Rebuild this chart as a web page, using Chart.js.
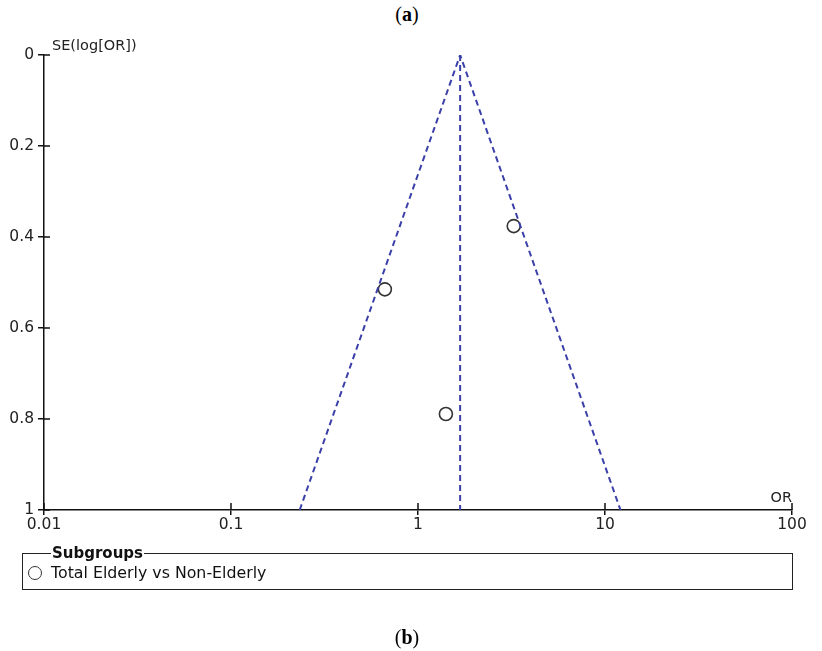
<!DOCTYPE html>
<html>
<head>
<meta charset="utf-8">
<script src="https://cdn.jsdelivr.net/npm/chart.js@4"></script>
<style>
  body { margin: 0; background: #fff; }
  #wrap { position: relative; width: 822px; height: 651px; }
  #chart { position: absolute; left: 0; top: 0; }
  .cap { position: absolute; left: 0; width: 814px; text-align: center;
         font-family: "Liberation Serif", serif; font-size: 20px; line-height: 22px; color: #000; }
  fieldset { position: absolute; left: 22px; top: 546px; width: 771px; height: 44px; box-sizing: border-box;
             margin: 0; padding: 0 0 0 5px; border: 1.5px solid #222;
             font-family: "DejaVu Sans", sans-serif; font-size: 15.8px; color: #111; }
  legend { margin-left: 23px; padding: 0 1px; font-weight: bold; font-size: 15px; line-height: 15px; }
  .item { display: flex; align-items: center; margin-top: 3px; line-height: 18px; }
  .dot { width: 14px; height: 14px; border: 1.6px solid #333; border-radius: 50%; margin-right: 9px; box-sizing: border-box; }
</style>
</head>
<body>
<div id="wrap">
  <div class="cap" style="top:3px">(<b>a</b>)</div>
  <canvas id="chart" width="822" height="651"></canvas>
  <fieldset><legend>Subgroups</legend>
    <div class="item"><span class="dot"></span><span id="seriesName"></span></div>
  </fieldset>
  <div class="cap" style="top:626px">(<b>b</b>)</div>
</div>
<script>
// study points: odds ratio and its standard error
var seriesName = 'Total Elderly vs Non-Elderly';
var studyOR = [3.25, 0.665, 1.41];
var studySE = [0.376, 0.515, 0.789];
// pseudo 95% confidence funnel and pooled estimate
var funnelOR = [0.233, 1.68, 12.1];
var funnelSE = [1, 0, 1];
var pooledOR = [1.68, 1.68];
var pooledSE = [0, 1];
var xTicks = [0.01, 0.1, 1, 10, 100];
var yTicks = [0, 0.2, 0.4, 0.6, 0.8, 1];

document.getElementById('seriesName').textContent = seriesName;

function pts(xs, ys) {
    return xs.map(function (x, i) { return { x: x, y: ys[i] }; });
}

var funnelColor = '#3b40a8';
var font = { family: 'DejaVu Sans', size: 15.5 };

// ticks that cross the axis line, plus axis titles
var axisExtras = {
    id: 'axisExtras',
    afterDraw: function (chart) {
        var ctx = chart.ctx, a = chart.chartArea;
        var xs = chart.scales.x, ys = chart.scales.y;
        ctx.save();
        ctx.strokeStyle = '#111';
        ctx.lineWidth = 1.5;
        ctx.beginPath();
        xTicks.forEach(function (v) {
            var px = xs.getPixelForValue(v);
            ctx.moveTo(px, a.bottom);
            ctx.lineTo(px, a.bottom - 7);
        });
        yTicks.forEach(function (v) {
            var py = ys.getPixelForValue(v);
            ctx.moveTo(a.left, py);
            ctx.lineTo(a.left + 6, py);
        });
        ctx.stroke();
        ctx.fillStyle = '#222';
        ctx.font = '14.5px "DejaVu Sans"';
        ctx.textBaseline = 'alphabetic';
        ctx.textAlign = 'left';
        ctx.fillText('SE(log[OR])', a.left + 8, a.top - 5);
        ctx.textAlign = 'right';
        ctx.fillText('OR', a.right, a.bottom - 8);
        ctx.restore();
    }
};

new Chart(document.getElementById('chart').getContext('2d'), {
    type: 'scatter',
    data: {
        datasets: [
            {
                label: 'funnel',
                type: 'line',
                data: pts(funnelOR, funnelSE),
                borderColor: funnelColor,
                borderWidth: 2,
                borderDash: [6, 4],
                pointRadius: 0,
                fill: false,
                tension: 0
            },
            {
                label: 'pooled',
                type: 'line',
                data: pts(pooledOR, pooledSE),
                borderColor: funnelColor,
                borderWidth: 2,
                borderDash: [6, 4],
                pointRadius: 0,
                fill: false
            },
            {
                label: seriesName,
                data: pts(studyOR, studySE),
                pointRadius: 6.5,
                pointBorderWidth: 1.6,
                pointBorderColor: '#333',
                pointBackgroundColor: 'rgba(0,0,0,0)'
            }
        ]
    },
    options: {
        responsive: false,
        animation: false,
        layout: { padding: { top: 55, right: 30, bottom: 0, left: 0 } },
        plugins: { legend: { display: false }, tooltip: { enabled: false } },
        scales: {
            x: {
                type: 'logarithmic',
                min: 0.01,
                max: 100,
                afterBuildTicks: function (s) { s.ticks = xTicks.map(function (v) { return { value: v }; }); },
                afterFit: function (s) { s.height = 141; },
                ticks: {
                    autoSkip: false,
                    maxRotation: 0,
                    padding: 1,
                    color: '#222',
                    font: font,
                    callback: function (v) { return String(v); }
                },
                grid: { drawOnChartArea: false, drawTicks: true, tickLength: 5, color: '#111', lineWidth: 1.5 },
                border: { display: true, color: '#111', width: 1.5 }
            },
            y: {
                reverse: true,
                min: 0,
                max: 1,
                afterBuildTicks: function (s) { s.ticks = yTicks.map(function (v) { return { value: v }; }); },
                afterFit: function (s) { s.width = 44; },
                ticks: {
                    padding: 4,
                    color: '#222',
                    font: font,
                    callback: function (v) { return String(v); }
                },
                grid: { drawOnChartArea: false, drawTicks: true, tickLength: 6, color: '#111', lineWidth: 1.5 },
                border: { display: true, color: '#111', width: 1.5 }
            }
        }
    },
    plugins: [axisExtras]
});
</script>
</body>
</html>
